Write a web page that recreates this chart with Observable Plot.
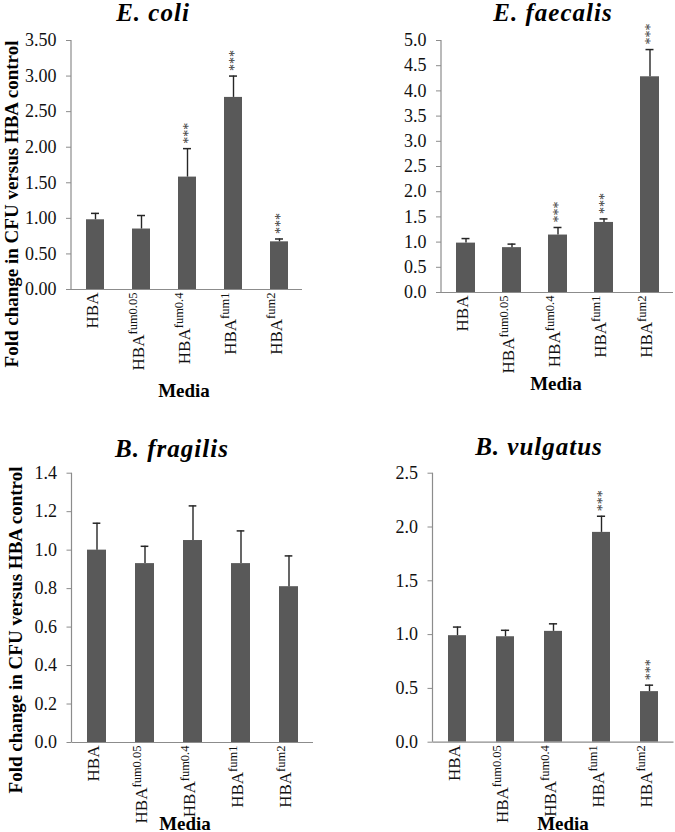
<!DOCTYPE html>
<html>
<head>
<meta charset="utf-8">
<script src="https://cdn.jsdelivr.net/npm/d3@7"></script>
<script src="https://cdn.jsdelivr.net/npm/@observablehq/plot@0.6"></script>
<style>
  html, body { margin: 0; padding: 0; background: #fff; }
  #page { position: relative; width: 675px; height: 832px; overflow: hidden; background: #fff; font-family: "Liberation Serif", "Times New Roman", serif; color: #000; }
  .panel { position: absolute; }
  .title { position: absolute; transform: translateX(-50%); font-size: 25px; line-height: 1; font-weight: bold; font-style: italic; letter-spacing: 1px; white-space: nowrap; }
  .xlab { position: absolute; transform: translateX(-50%); font-size: 19px; line-height: 0.8; font-weight: bold; white-space: nowrap; }
  .ylab { position: absolute; transform: translate(-50%, -50%) rotate(-90deg); font-size: 19px; line-height: 1; font-weight: bold; white-space: nowrap; }
</style>
</head>
<body>
<div id="page"></div>
<script>
// ---------- data ----------
const labelBase = "HBA";
const labelSup = ["", "fum0.05", "fum0.4", "fum1", "fum2"];
const categories = labelSup.map(s => labelBase + s);

const titles = ["E. coli", "E. faecalis", "B. fragilis", "B. vulgatus"];
const yTitle = "Fold change in CFU versus HBA control";
const xTitle = "Media";

const ecoliMean = [0.98, 0.85, 1.58, 2.70, 0.67];
const ecoliErr  = [1.07, 1.04, 1.98, 3.00, 0.71];
const ecoliSig  = [false, false, true, true, true];

const faecalisMean = [0.98, 0.89, 1.14, 1.39, 4.28];
const faecalisErr  = [1.07, 0.96, 1.29, 1.46, 4.82];
const faecalisSig  = [false, false, true, true, true];

const fragilisMean = [1.00, 0.93, 1.05, 0.93, 0.81];
const fragilisErr  = [1.14, 1.02, 1.23, 1.10, 0.97];
const fragilisSig  = [false, false, false, false, false];

const vulgatusMean = [0.99, 0.98, 1.03, 1.95, 0.47];
const vulgatusErr  = [1.07, 1.04, 1.10, 2.10, 0.53];
const vulgatusSig  = [false, false, false, true, true];

const ecoliTicks    = [0, 0.5, 1, 1.5, 2, 2.5, 3, 3.5];
const faecalisTicks = [0, 0.5, 1, 1.5, 2, 2.5, 3, 3.5, 4, 4.5, 5];
const fragilisTicks = [0, 0.2, 0.4, 0.6, 0.8, 1.0, 1.2, 1.4];
const vulgatusTicks = [0, 0.5, 1, 1.5, 2, 2.5];
const sigMark = "***";

// ---------- layout ----------
const panels = [
  {title: titles[0], mean: ecoliMean, err: ecoliErr, sig: ecoliSig, ticks: ecoliTicks, digits: 2,
   left: 0, top: 0, w: 337, h: 410, ml: 71, mr: 35, mt: 40, mb: 121, pad: 0.61,
   titleX: 153, titleTop: 0, xlabX: 184, xlabTop: 383, ylab: {x: 11, y: 204}},
  {title: titles[1], mean: faecalisMean, err: faecalisErr, sig: faecalisSig, ticks: faecalisTicks, digits: 1,
   left: 337, top: 0, w: 338, h: 410, ml: 104, mr: 2, mt: 40, mb: 118, pad: 0.59,
   titleX: 553, titleTop: 0, xlabX: 556, xlabTop: 375.5, ylab: null},
  {title: titles[2], mean: fragilisMean, err: fragilisErr, sig: fragilisSig, ticks: fragilisTicks, digits: 1,
   left: 0, top: 410, w: 337, h: 422, ml: 71.5, mr: 24, mt: 62.7, mb: 90, pad: 0.6,
   titleX: 172, titleTop: 436, xlabX: 185, xlabTop: 815.5, ylab: {x: 15, y: 630}},
  {title: titles[3], mean: vulgatusMean, err: vulgatusErr, sig: vulgatusSig, ticks: vulgatusTicks, digits: 1,
   left: 337, top: 410, w: 338, h: 422, ml: 95.5, mr: 1.5, mt: 62.7, mb: 90.3, pad: 0.63,
   titleX: 539, titleTop: 434, xlabX: 563, xlabTop: 815.5, ylab: null}
];

const page = document.getElementById("page");
const font = "'Liberation Serif', 'Times New Roman', serif";
const barColor = "#595959";
const axisColor = "#8c8c8c";
const textColor = "#111";
const errColor = "#262626";
const capWidth = 8;

panels.forEach(p => {
  const data = categories.map((c, i) => ({cat: c, mean: p.mean[i], err: p.err[i], sig: p.sig[i]}));
  const step = (p.w - p.ml - p.mr) / categories.length;
  const bw = step * (1 - p.pad);
  const capInset = Math.max(0, (bw - capWidth) / 2);
  const yMax = p.ticks[p.ticks.length - 1];

  const chart = Plot.plot({
    width: p.w, height: p.h,
    marginLeft: p.ml, marginRight: p.mr, marginTop: p.mt, marginBottom: p.mb,
    style: {fontFamily: font, fontSize: "18px", background: "transparent", overflow: "visible", color: textColor},
    x: {domain: categories, paddingInner: p.pad, paddingOuter: p.pad / 2, label: null},
    y: {domain: [0, yMax], label: null},
    marks: [
      Plot.barY(data, {x: "cat", y: "mean", fill: barColor}),
      Plot.ruleX(data, {x: "cat", y1: "mean", y2: "err", stroke: errColor, strokeWidth: 1.4}),
      Plot.tickY(data, {x: "cat", y: "err", stroke: errColor, strokeWidth: 1.5, insetLeft: capInset, insetRight: capInset}),
      Plot.text(data.filter(d => d.sig), {x: "cat", y: "err", text: () => sigMark, rotate: -90, textAnchor: "start",
        lineAnchor: "middle", dy: -5, dx: 1, fontSize: 14, fill: "#333"}),
      Plot.ruleY([0], {stroke: axisColor, strokeWidth: 1.2}),
      Plot.axisY(p.ticks, {anchor: "left", tickSize: 5, tickPadding: 10, tickFormat: d => d.toFixed(p.digits),
        fontSize: 18, stroke: axisColor, fill: textColor, label: null}),
      Plot.axisX({anchor: "bottom", tickSize: 0, tickPadding: 3, tickRotate: -90, fontSize: 17,
        fill: textColor, label: null, dx: -3})
    ]
  });

  // y-axis line from the plot's own scales
  const xs = chart.scale("x"), ys = chart.scale("y");
  d3.select(chart).append("line")
    .attr("x1", xs.range[0]).attr("x2", xs.range[0])
    .attr("y1", ys.range[0]).attr("y2", ys.range[1])
    .attr("stroke", axisColor).attr("stroke-width", 1.2);

  // superscripts on category labels
  d3.select(chart).selectAll("text").each(function() {
    const i = categories.indexOf(this.textContent);
    if (i < 0) return;
    const sel = d3.select(this);
    sel.text(labelBase);
    if (labelSup[i]) {
      sel.append("tspan").attr("font-size", "12.5px").attr("dy", "-0.55em").text(labelSup[i]);
    }
  });

  const wrap = document.createElement("div");
  wrap.className = "panel";
  wrap.style.left = p.left + "px";
  wrap.style.top = p.top + "px";
  wrap.appendChild(chart);
  page.appendChild(wrap);

  const t = document.createElement("div");
  t.className = "title"; t.textContent = p.title;
  t.style.left = p.titleX + "px"; t.style.top = p.titleTop + "px";
  page.appendChild(t);

  const xl = document.createElement("div");
  xl.className = "xlab"; xl.textContent = xTitle;
  xl.style.left = p.xlabX + "px"; xl.style.top = p.xlabTop + "px";
  page.appendChild(xl);

  if (p.ylab) {
    const yl = document.createElement("div");
    yl.className = "ylab"; yl.textContent = yTitle;
    yl.style.left = p.ylab.x + "px"; yl.style.top = p.ylab.y + "px";
    page.appendChild(yl);
  }
});
</script>
</body>
</html>
